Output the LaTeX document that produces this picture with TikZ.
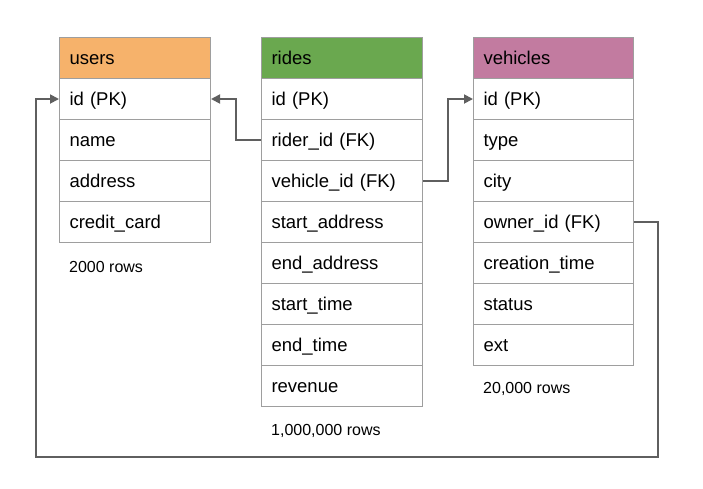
\documentclass[tikz,border=0pt]{standalone}
\usepackage{fontspec}
\setmainfont{Liberation Sans}
\usetikzlibrary{arrows.meta}
\definecolor{usersorange}{HTML}{F6B26B}
\definecolor{ridesgreen}{HTML}{6AA84F}
\definecolor{vehiclespink}{HTML}{C27BA0}
\definecolor{gridgray}{HTML}{9E9E9E}
\definecolor{linkgray}{HTML}{5F5F5F}
\tikzset{
  cell/.style={draw=gridgray, line width=1pt, anchor=north west, minimum height=41pt,
    inner xsep=10pt, inner ysep=2pt, align=left, text height=16.5pt, text depth=4pt,
    font=\fontsize{18.5}{22}\selectfont},
  fk/.style={draw=linkgray, line width=1.8pt, -{Triangle[length=9pt,width=9pt]}},
  rowcount/.style={anchor=west, inner sep=0pt, font=\fontsize{16}{19}\selectfont}
}
\begin{document}
\begin{tikzpicture}[x=1pt,y=-1pt]
        \useasboundingbox (0,0) rectangle (703,488);
        % users
        \node[cell, fill=usersorange, minimum width=151pt, text width=131pt] (users-h) at (59,37) {users};
        \foreach \txt [count=\i] in {id (PK), name, address, credit\_card}
            \node[cell, minimum width=151pt, text width=131pt] (users-\i) at (59,{37+41*\i}) {\txt};
        \node[rowcount] (users-n) at (69,267) {2000 rows};
        % rides
        \node[cell, fill=ridesgreen, minimum width=161pt, text width=141pt] (rides-h) at (261,37) {rides};
        \foreach \txt [count=\i] in {id (PK), rider\_id (FK), vehicle\_id (FK), start\_address,
                end\_address, start\_time, end\_time, revenue}
            \node[cell, minimum width=161pt, text width=141pt] (rides-\i) at (261,{37+41*\i}) {\txt};
        \node[rowcount] (rides-n) at (271,431) {1,000,000 rows};
        % vehicles
        \node[cell, fill=vehiclespink, minimum width=160pt, text width=140pt] (vehicles-h) at (473,37) {vehicles};
        \foreach \txt [count=\i] in {id (PK), type, city, owner\_id (FK), creation\_time, status, ext}
            \node[cell, minimum width=160pt, text width=140pt] (vehicles-\i) at (473,{37+41*\i}) {\txt};
        \node[rowcount] (vehicles-n) at (483,389) {20,000 rows};
        % foreign keys
        \coordinate (loop-r) at (658,457);
        \coordinate (loop-l) at (36,457);
        \draw[fk] (rides-2.west) -- ++(-25,0) |- (users-1.east);
        \draw[fk] (rides-3.east) -- ++(25,0) |- (vehicles-1.west);
        \draw[fk] (vehicles-4.east) -| (loop-r) -- (loop-l) |- (users-1.west);
\end{tikzpicture}
\end{document}
